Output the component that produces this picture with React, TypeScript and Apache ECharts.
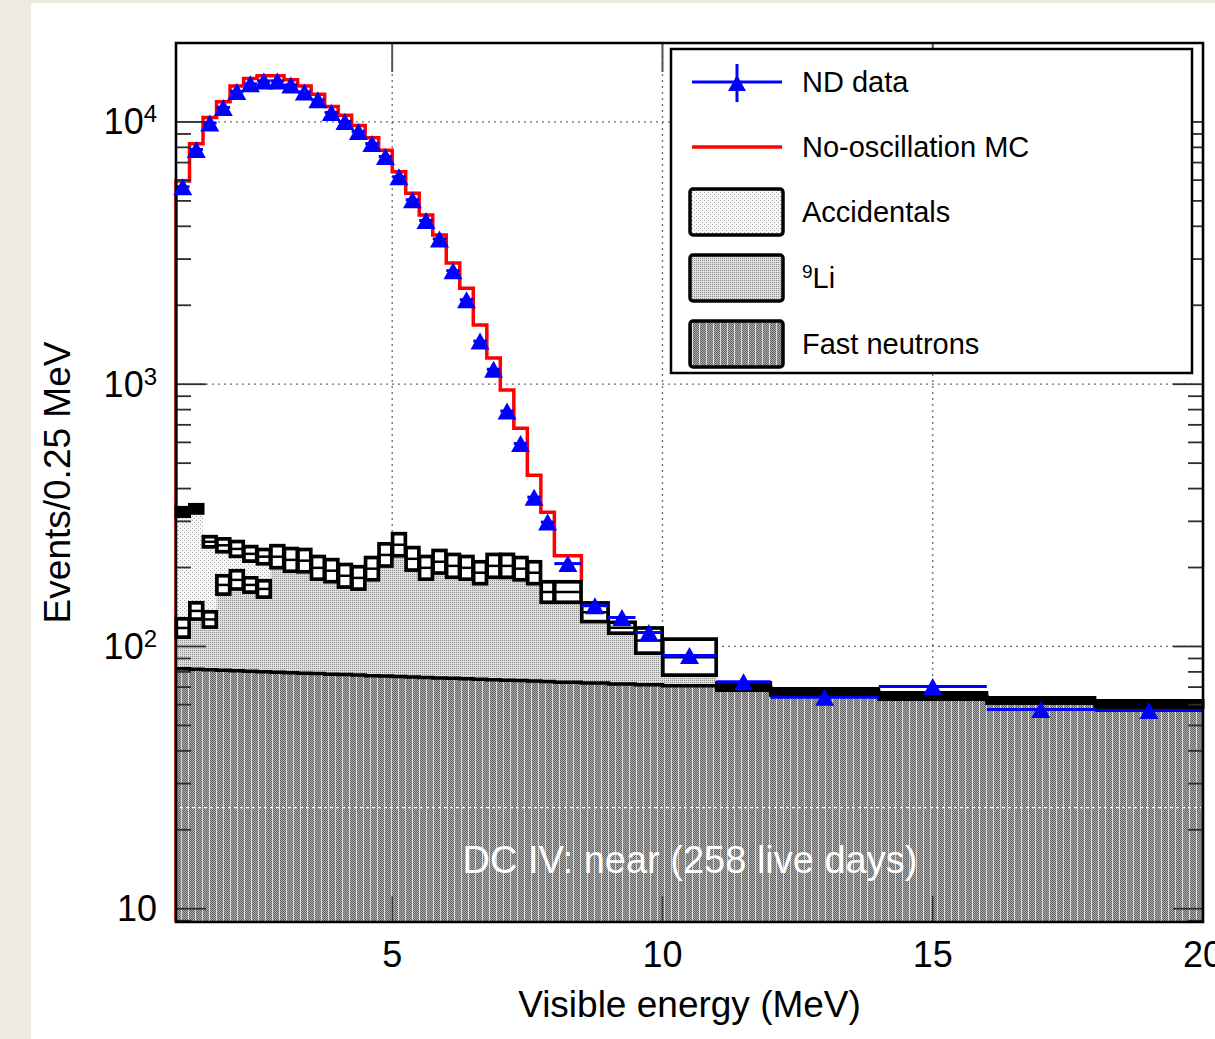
import React, { useEffect, useRef } from 'react';
import * as echarts from 'echarts';

// ---------------- data ----------------
const binEdges = [
  1, 1.25, 1.5, 1.75, 2, 2.25, 2.5, 2.75, 3, 3.25, 3.5, 3.75, 4, 4.25, 4.5, 4.75,
  5, 5.25, 5.5, 5.75, 6, 6.25, 6.5, 6.75, 7, 7.25, 7.5, 7.75, 8, 8.5, 9, 9.5, 10,
  11, 12, 14, 16, 18, 20,
];
// ND data (events / 0.25 MeV), one per bin
const ndData = [
  5660, 7850, 9910, 11360, 13070, 13970, 14340, 14340, 13840, 13020, 12140, 10870,
  10040, 9200, 8270, 7380, 6180, 5050, 4210, 3580, 2710, 2100, 1460, 1140, 790, 594,
  371, 298, 207, 143, 129, 113, 92.4, 73.4, 64.0, 70.3, 57.5, 57.0,
];
// No-oscillation MC, bins from 1 to 8.5 MeV
const mcNoOsc = [
  5950, 8250, 10400, 11950, 13700, 14650, 15000, 15000, 14500, 13700, 12750, 11450,
  10600, 9700, 8700, 7800, 6460, 5350, 4420, 3710, 2900, 2320, 1680, 1260, 950, 680,
  450, 325, 222,
];
const mcTailValue = 178;
// Fast neutrons
const fastNeutrons = [
  82.2, 81.9, 81.5, 81.2, 80.8, 80.5, 80.1, 79.8, 79.4, 79.1, 78.8, 78.4, 78.1, 77.8,
  77.4, 77.1, 76.8, 76.5, 76.2, 75.9, 75.6, 75.3, 75.0, 74.7, 74.4, 74.1, 73.8, 73.5,
  73.1, 72.6, 72.0, 71.5, 70.8, 70.4, 67.0, 64.4, 62.2, 60.3,
];
// total background uncertainty band (low / high)
const bkgTotalLow = [
  313, 322, 239, 229, 220, 211, 206, 199, 193, 192, 180, 176, 168, 165, 179, 202, 221,
  195, 180, 190, 183, 180, 173, 183, 183, 179, 173, 147, 147, 124, 112, 94, 77.5, 67.9,
  65.0, 62.8, 60.6, 58.5,
];
const bkgTotalHigh = [
  339, 348, 263, 258, 252, 241, 235, 243, 237, 235, 221, 215, 206, 202, 219, 247, 270,
  239, 221, 233, 225, 221, 211, 225, 225, 219, 211, 177, 177, 147, 124, 118, 107, 72.9,
  69.2, 66.8, 63.9, 62.2,
];
// fast neutrons + 9Li band (first bins, where accidentals are sizeable)
const fnLiLow = [108.2, 126.8, 118.2, 157.9, 165.1, 160.7, 153.8];
const fnLiHigh = [127.9, 147.2, 136.0, 186.6, 195.0, 183.4, 178.6];

const xRange = [1, 20];
const yRange = [8.9, 20000];
const xLabelValues = [5, 10, 15, 20];
const xGridValues = [5, 10, 15];
const yGridValues = [100, 1000, 10000];
const yMajorTicks = [10, 100, 1000, 10000];
const yMinorTicks = [
  9, 20, 30, 40, 50, 60, 70, 80, 90, 200, 300, 400, 500, 600, 700, 800, 900, 2000,
  3000, 4000, 5000, 6000, 7000, 8000, 9000,
];
const whiteGuideValue = 24.3;

const FONT = '"Liberation Sans", Arial, Helvetica, sans-serif';

function makeTile(w: number, h: number, paint: (ctx: CanvasRenderingContext2D) => void) {
  const c = document.createElement('canvas');
  c.width = w;
  c.height = h;
  const ctx = c.getContext('2d') as CanvasRenderingContext2D;
  paint(ctx);
  return { image: c.toDataURL(), repeat: 'repeat', imageWidth: w, imageHeight: h } as any;
}

export default function App() {
  const ref = useRef<HTMLDivElement>(null);

  useEffect(() => {
    if (!ref.current) return;
    const chart = echarts.init(ref.current, null, { renderer: 'svg' });

    const fnPattern = makeTile(7, 2, (ctx) => {
      for (let x = 0; x < 7; x++)
        for (let y = 0; y < 2; y++) {
          ctx.fillStyle = x === 6 ? '#dcdcdc' : (x + y) % 2 === 0 ? '#646464' : '#ababab';
          ctx.fillRect(x, y, 1, 1);
        }
    });
    const liPattern = makeTile(4, 4, (ctx) => {
      ctx.fillStyle = '#dedede';
      ctx.fillRect(0, 0, 4, 4);
      ctx.fillStyle = '#8e8e8e';
      [[0, 0], [2, 0], [0, 2], [2, 2]].forEach(([x, y]) => ctx.fillRect(x, y, 1, 1));
    });
    const accPattern = makeTile(4, 4, (ctx) => {
      ctx.fillStyle = '#f7f7f7';
      ctx.fillRect(0, 0, 4, 4);
      ctx.fillStyle = '#a6a6a6';
      [[0, 0], [2, 2]].forEach(([x, y]) => ctx.fillRect(x, y, 1, 1));
    });

    const nBins = binEdges.length - 1;
    const centers = ndData.map((_, i) => (binEdges[i] + binEdges[i + 1]) / 2);
    const totCenter = bkgTotalLow.map((lo, i) => Math.sqrt(lo * bkgTotalHigh[i]));
    const fnLiCenter = totCenter.map((t, i) =>
      i < fnLiLow.length ? Math.sqrt(fnLiLow[i] * fnLiHigh[i]) : Math.max(t, fastNeutrons[i])
    );
    const accTop = totCenter.map((t, i) => Math.max(t, fnLiCenter[i]));

    const one = [[xRange[0], yRange[0]]];

    const stepPts = (api: any, vals: number[]) => {
      const pts: number[][] = [];
      for (let i = 0; i < vals.length; i++) {
        pts.push(api.coord([binEdges[i], vals[i]]));
        pts.push(api.coord([binEdges[i + 1], vals[i]]));
      }
      return pts;
    };

    const gridSeries = {
      type: 'custom',
      silent: true,
      data: one,
      renderItem: (_p: any, api: any) => {
        const ch: any[] = [];
        const gs = { stroke: '#6a6a6a', lineWidth: 1.3, lineDash: [2, 4] };
        xGridValues.forEach((x) => {
          const a = api.coord([x, yRange[0]]);
          const b = api.coord([x, yRange[1]]);
          ch.push({ type: 'line', shape: { x1: a[0], y1: a[1], x2: b[0], y2: b[1] }, style: gs });
        });
        yGridValues.forEach((y) => {
          const a = api.coord([xRange[0], y]);
          const b = api.coord([xRange[1], y]);
          ch.push({ type: 'line', shape: { x1: a[0], y1: a[1], x2: b[0], y2: b[1] }, style: gs });
        });
        return { type: 'group', children: ch };
      },
    };

    const mcSeries = {
      type: 'custom',
      silent: true,
      data: one,
      renderItem: (_p: any, api: any) => {
        const pts: number[][] = [api.coord([binEdges[0], yRange[0]])];
        mcNoOsc.forEach((v, i) => {
          pts.push(api.coord([binEdges[i], v]));
          pts.push(api.coord([binEdges[i + 1], v]));
        });
        pts.push(api.coord([binEdges[mcNoOsc.length], mcTailValue]));
        return {
          type: 'polyline',
          shape: { points: pts },
          style: { stroke: '#ff0000', lineWidth: 3.5, fill: null, lineJoin: 'miter' },
        };
      },
    };

    const fillSeries = {
      type: 'custom',
      silent: true,
      data: one,
      renderItem: (_p: any, api: any) => {
        const fnTop = stepPts(api, fastNeutrons);
        const liTop = stepPts(api, fnLiCenter);
        const accT = stepPts(api, accTop);
        const fnPoly = [api.coord([xRange[0], yRange[0]]), ...fnTop, api.coord([xRange[1], yRange[0]])];
        const liPoly = [...liTop, ...fnTop.slice().reverse()];
        const accPoly = [...accT, ...liTop.slice().reverse()];
        return {
          type: 'group',
          children: [
            { type: 'polygon', shape: { points: accPoly }, style: { fill: accPattern } },
            { type: 'polygon', shape: { points: liPoly }, style: { fill: liPattern } },
            { type: 'polygon', shape: { points: fnPoly }, style: { fill: fnPattern } },
            {
              type: 'polyline',
              shape: { points: fnTop },
              style: { stroke: '#000', lineWidth: 3.5, fill: null },
            },
          ],
        };
      },
    };

    const boxSeries = {
      type: 'custom',
      silent: true,
      data: one,
      renderItem: (_p: any, api: any) => {
        const ch: any[] = [];
        const box = (x0: number, x1: number, lo: number, hi: number) => {
          const a = api.coord([x0, hi]);
          const b = api.coord([x1, lo]);
          const x = a[0];
          const y = a[1];
          const w = b[0] - a[0];
          const h = b[1] - a[1];
          ch.push({ type: 'rect', shape: { x: x - 1.5, y: y - 1.5, width: w + 3, height: h + 3 }, style: { fill: '#000' } });
          const t = 2.2;
          const sep = 2.5;
          const hh = (h - 2 * t - sep) / 2;
          if (hh >= 1.5 && w - 2 * t > 2) {
            ch.push({ type: 'rect', shape: { x: x + t, y: y + t, width: w - 2 * t, height: hh }, style: { fill: '#fff' } });
            ch.push({ type: 'rect', shape: { x: x + t, y: y + t + hh + sep, width: w - 2 * t, height: hh }, style: { fill: '#fff' } });
          }
        };
        for (let i = 0; i < nBins; i++) box(binEdges[i], binEdges[i + 1], bkgTotalLow[i], bkgTotalHigh[i]);
        for (let i = 0; i < fnLiLow.length; i++) box(binEdges[i], binEdges[i + 1], fnLiLow[i], fnLiHigh[i]);
        return { type: 'group', children: ch };
      },
    };

    const dataBarSeries = {
      type: 'custom',
      silent: true,
      data: one,
      renderItem: (_p: any, api: any) => {
        const ch: any[] = [];
        ndData.forEach((v, i) => {
          const a = api.coord([binEdges[i], v]);
          const b = api.coord([binEdges[i + 1], v]);
          ch.push({ type: 'line', shape: { x1: a[0], y1: a[1], x2: b[0], y2: b[1] }, style: { stroke: '#0000ff', lineWidth: 3 } });
        });
        return { type: 'group', children: ch };
      },
    };

    const pointSeries = {
      type: 'scatter',
      silent: true,
      data: ndData.map((v, i) => [centers[i], v]),
      symbol: 'triangle',
      symbolSize: [19, 17],
      itemStyle: { color: '#0000ff', opacity: 1 },
    };

    const overlaySeries = {
      type: 'custom',
      silent: true,
      data: one,
      renderItem: (_p: any, api: any) => {
        const ch: any[] = [];
        const bl = api.coord([xRange[0], yRange[0]]);
        const tr = api.coord([xRange[1], yRange[1]]);
        const L = bl[0], B = bl[1], R = tr[0], T = tr[1];
        const wg = api.coord([xRange[0], whiteGuideValue]);
        ch.push({ type: 'line', shape: { x1: L + 4, y1: wg[1], x2: R - 2, y2: wg[1] }, style: { stroke: '#ffffff', lineWidth: 1.4, lineDash: [3, 3] } });
        const ts = { stroke: '#2e2e2e', lineWidth: 1.8 };
        yMajorTicks.forEach((v) => {
          const y = api.coord([xRange[0], v])[1];
          ch.push({ type: 'line', shape: { x1: L, y1: y, x2: L + 30, y2: y }, style: ts });
          ch.push({ type: 'line', shape: { x1: R, y1: y, x2: R - 30, y2: y }, style: ts });
        });
        yMinorTicks.forEach((v) => {
          const y = api.coord([xRange[0], v])[1];
          ch.push({ type: 'line', shape: { x1: L, y1: y, x2: L + 15, y2: y }, style: ts });
          ch.push({ type: 'line', shape: { x1: R, y1: y, x2: R - 15, y2: y }, style: ts });
        });
        xGridValues.forEach((v) => {
          const x = api.coord([v, yRange[0]])[0];
          ch.push({ type: 'line', shape: { x1: x, y1: B, x2: x, y2: B - 26 }, style: { stroke: '#333', lineWidth: 1.4 } });
          ch.push({ type: 'line', shape: { x1: x, y1: T, x2: x, y2: T + 29 }, style: { stroke: '#555', lineWidth: 2 } });
        });
        ch.push({ type: 'rect', shape: { x: L, y: T, width: R - L, height: B - T }, style: { fill: null, stroke: '#000', lineWidth: 2.6 } });
        return { type: 'group', children: ch };
      },
    };

    const legendX = 671, legendY = 49, legendW = 521, legendH = 324;
    const rowY = [82, 147, 212, 278, 344];
    const txt = (y: number, text: string) => ({
      type: 'text',
      x: 802,
      y,
      z: 101,
      silent: true,
      style: { text, fill: '#000', font: `29px ${FONT}`, align: 'left', verticalAlign: 'middle' },
    });
    const legBox = (y: number, fill: any) => ({
      type: 'rect',
      z: 101,
      silent: true,
      shape: { x: 690, y: y - 23, width: 93, height: 46, r: 3 },
      style: { fill, stroke: '#000', lineWidth: 3.5 },
    });

    const graphic = [
      {
        type: 'rect',
        z: 100,
        silent: true,
        shape: { x: legendX, y: legendY, width: legendW, height: legendH },
        style: { fill: '#fff', stroke: '#000', lineWidth: 2.5 },
      },
      { type: 'line', z: 101, silent: true, shape: { x1: 692, y1: rowY[0], x2: 782, y2: rowY[0] }, style: { stroke: '#0000ff', lineWidth: 3 } },
      { type: 'line', z: 101, silent: true, shape: { x1: 737, y1: rowY[0] - 18, x2: 737, y2: rowY[0] + 20 }, style: { stroke: '#0000ff', lineWidth: 3 } },
      {
        type: 'polygon',
        z: 102,
        silent: true,
        shape: { points: [[728, rowY[0] + 9], [746, rowY[0] + 9], [737, rowY[0] - 7]] },
        style: { fill: '#0000ff' },
      },
      { type: 'line', z: 101, silent: true, shape: { x1: 692, y1: rowY[1], x2: 782, y2: rowY[1] }, style: { stroke: '#ff0000', lineWidth: 3.5 } },
      legBox(rowY[2], accPattern),
      legBox(rowY[3], liPattern),
      legBox(rowY[4], fnPattern),
      txt(rowY[0], 'ND data'),
      txt(rowY[1], 'No-oscillation MC'),
      {
        type: 'text',
        x: 802,
        y: rowY[3],
        z: 101,
        silent: true,
        style: {
          text: '{s|9}{n|Li}',
          align: 'left',
          verticalAlign: 'middle',
          rich: {
            s: { fontSize: 19, fontFamily: FONT, fill: '#000', verticalAlign: 'top', lineHeight: 32 },
            n: { fontSize: 29, fontFamily: FONT, fill: '#000', lineHeight: 32 },
          },
        },
      },
      txt(rowY[2], 'Accidentals'),
      txt(rowY[4], 'Fast neutrons'),
      {
        type: 'text',
        x: 690,
        y: 860,
        z: 101,
        silent: true,
        style: {
          text: 'DC IV: near (258 live days)',
          fill: '#ffffff',
          font: `38px ${FONT}`,
          align: 'center',
          verticalAlign: 'middle',
        },
      },
    ];

    const option: any = {
      animation: false,
      backgroundColor: 'transparent',
      grid: { left: 176, top: 43, width: 1027, height: 879, containLabel: false, outerBoundsMode: 'none' },
      xAxis: {
        type: 'value',
        min: xRange[0],
        max: xRange[1],
        axisLine: { show: false },
        axisTick: { show: false, customValues: xLabelValues },
        splitLine: { show: false },
        axisLabel: {
          customValues: xLabelValues,
          fontSize: 36,
          fontFamily: FONT,
          color: '#000',
          margin: 14,
        },
        name: 'Visible energy (MeV)',
        nameLocation: 'middle',
        nameGap: 64,
        nameTextStyle: { fontSize: 37, fontFamily: FONT, color: '#000' },
      },
      yAxis: {
        type: 'log',
        logBase: 10,
        min: yRange[0],
        max: yRange[1],
        axisLine: { show: false },
        axisTick: { show: false },
        splitLine: { show: false },
        minorTick: { show: false },
        axisLabel: {
          showMinLabel: false,
          showMaxLabel: false,
          margin: 19,
          formatter: (v: number) => {
            const e = Math.round(Math.log10(v));
            return e === 1 ? '{b|10}' : `{b|10}{s|${e}}`;
          },
          rich: {
            b: { fontSize: 36, fontFamily: FONT, color: '#000', lineHeight: 40 },
            s: { fontSize: 24, fontFamily: FONT, color: '#000', verticalAlign: 'top', lineHeight: 24 },
          },
        },
        name: 'Events/0.25 MeV',
        nameLocation: 'middle',
        nameGap: 100,
        nameTextStyle: { fontSize: 37, fontFamily: FONT, color: '#000' },
      },
      series: [gridSeries, mcSeries, fillSeries, boxSeries, dataBarSeries, pointSeries, overlaySeries],
      graphic,
    };

    chart.setOption(option);
    return () => {
      chart.dispose();
    };
  }, []);

  return (
    <div style={{ position: 'absolute', left: 0, top: 0, width: 1215, height: 1039, background: '#eeeae1', overflow: 'hidden' }}>
      <div style={{ position: 'absolute', left: 31, top: 3, right: 0, bottom: 0, background: '#ffffff' }} />
      <div ref={ref} style={{ position: 'absolute', left: 0, top: 0, width: 1215, height: 1039 }} />
    </div>
  );
}
